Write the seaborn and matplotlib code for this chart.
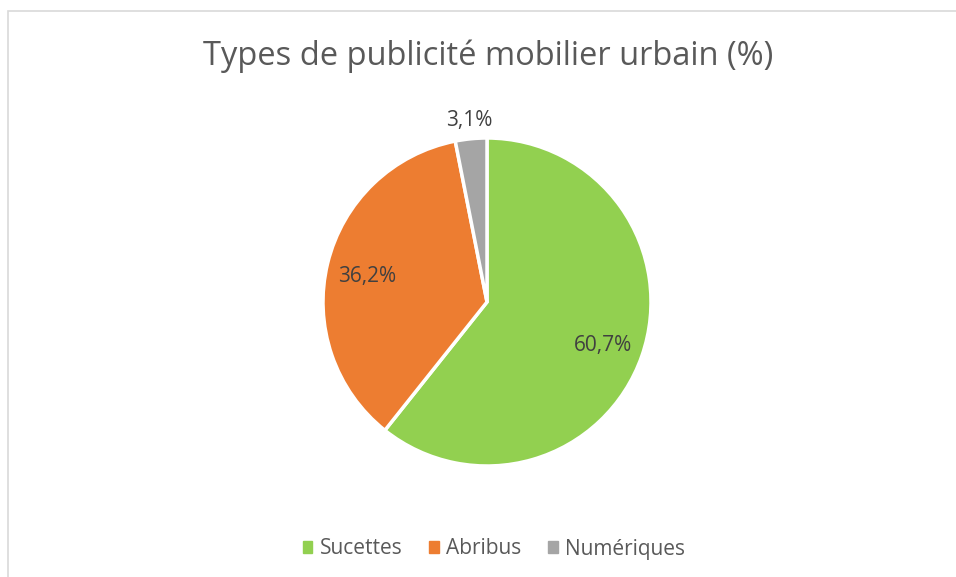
import numpy as np
import matplotlib
matplotlib.use("Agg")
import matplotlib.pyplot as plt
from matplotlib.patches import Rectangle
import seaborn as sns

# Parts of urban street-furniture advertising, in percent
categories = ["Sucettes", "Abribus", "Numériques"]
shares = [60.7, 36.2, 3.1]
share_labels = ["60,7%", "36,2%", "3,1%"]
colors = ["#92D050", "#ED7D31", "#A5A5A5"]

sns.set_theme(style="white")
plt.rcParams["font.family"] = ["Open Sans", "DejaVu Sans"]

W, H = 956, 577
fig = plt.figure(figsize=(W / 100, H / 100), dpi=100)
fig.patch.set_facecolor("white")

# chart frame, cut at the right and bottom edges
fig.add_artist(Rectangle((7.5 / W, -0.05), 1.2, 1 - 10.5 / H + 0.05,
                         transform=fig.transFigure, fill=False,
                         edgecolor="#D9D9D9", linewidth=1.2))

cx, cy, r = 487, 302, 164
ax = fig.add_axes([(cx - r) / W, (H - cy - r) / H, 2 * r / W, 2 * r / H])
wedges, _ = ax.pie(shares, colors=colors, startangle=90, counterclock=False,
                   wedgeprops=dict(edgecolor="white", linewidth=2.5))
ax.set_xlim(-1, 1)
ax.set_ylim(-1, 1)
ax.set_aspect("equal")
ax.axis("off")

# value labels: inside the large slices, above the small one
for w, lab, val in zip(wedges, share_labels, shares):
    mid = np.deg2rad((w.theta1 + w.theta2) / 2)
    dist = 0.75 if val > 10 else 1.11
    ax.text(dist * np.cos(mid), dist * np.sin(mid) - (0.02 if val > 10 else 0),
            lab, ha="center", va="center", fontsize=15, color="#404040")

fig.text(488 / W, 1 - 56 / H, "Types de publicité mobilier urbain (%)",
         ha="center", va="center", fontsize=23.5, color="#595959")

handles = [Rectangle((0, 0), 1, 1, color=c) for c in colors]
fig.legend(handles, categories, loc="center", bbox_to_anchor=(494 / W, 1 - 549 / H),
           ncol=3, frameon=False, fontsize=15, labelcolor="#595959",
           handlelength=0.45, handleheight=0.45, handletextpad=0.35,
           columnspacing=1.3)

fig.savefig("out.png", dpi=100, facecolor="white")
